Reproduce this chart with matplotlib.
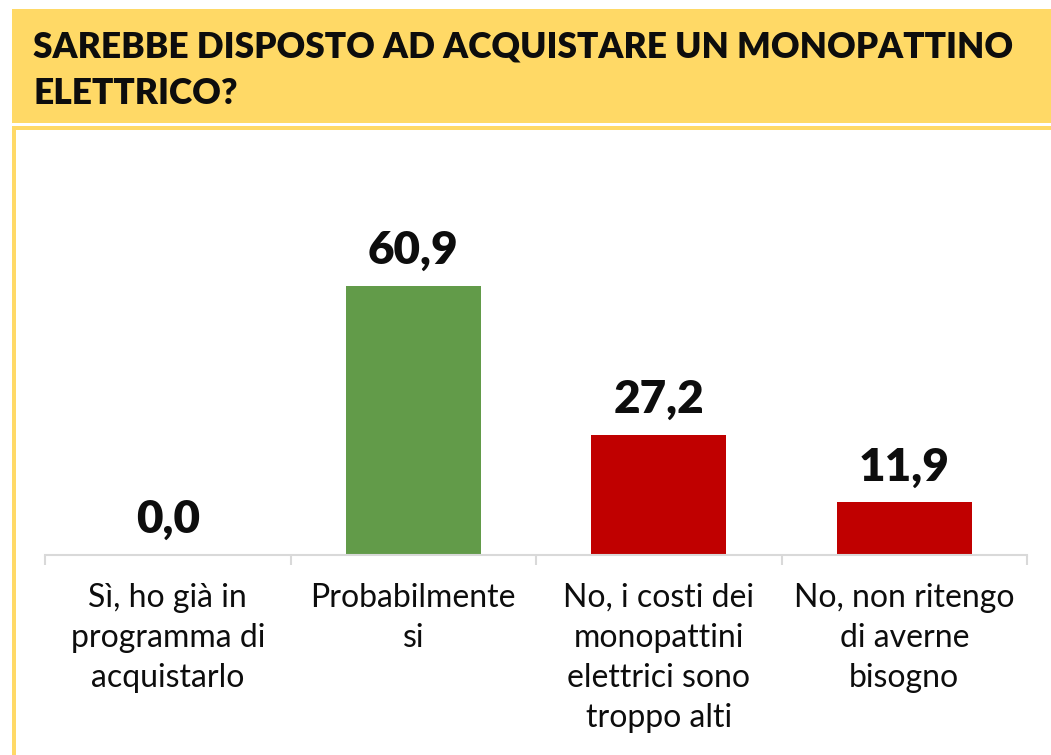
import matplotlib.pyplot as plt
from matplotlib.patches import Rectangle

W, H = 1051, 755

title_lines = ["SAREBBE DISPOSTO AD ACQUISTARE UN MONOPATTINO", "ELETTRICO?"]
categories = [
    "Sì, ho già in\nprogramma di\nacquistarlo",
    "Probabilmente\nsi",
    "No, i costi dei\nmonopattini\nelettrici sono\ntroppo alti",
    "No, non ritengo\ndi averne\nbisogno",
]
values = [0.0, 60.9, 27.2, 11.9]
colors = ["#629B49", "#629B49", "#C00000", "#C00000"]

YELLOW = "#FFD966"
GRID = "#D9D9D9"

plt.rcParams['font.family'] = ['Lato', 'DejaVu Sans']

fig = plt.figure(figsize=(W / 100, H / 100), dpi=100)


def px_rect(x0, y0, x1, y1, color):
    # pixel coords with origin top-left -> figure fraction
    fig.patches.append(Rectangle((x0 / W, 1 - y1 / H), (x1 - x0) / W, (y1 - y0) / H,
                                 transform=fig.transFigure, facecolor=color,
                                 edgecolor='none', zorder=0))


# title band and frame
px_rect(12, 9, W, 123, YELLOW)
px_rect(12, 126, W, 130, YELLOW)
px_rect(12, 126, 16, H, YELLOW)

for i, line in enumerate(title_lines):
    fig.text(33 / W, 1 - (57 + 47 * i) / H, line, fontsize=25.4, fontweight='heavy',
             color='#0D0D0D', va='baseline', ha='left')

# plot area: baseline at y=555 px, ylim 0..70 -> ~4.42 px per unit
ymax = 70
ax_left, ax_right = 45, 1027
base_y = 555
top_y = base_y - ymax * 4.42
ax = fig.add_axes([ax_left / W, 1 - base_y / H, (ax_right - ax_left) / W, (base_y - top_y) / H])
ax.set_facecolor('none')

x = range(len(values))
bars = ax.bar(x, values, width=0.55, color=colors, zorder=2)
for b, v in zip(bars, values):
    ax.text(b.get_x() + b.get_width() / 2, v + 3.3, f"{v:.1f}".replace('.', ','),
            ha='center', va='bottom', fontsize=33, fontweight='heavy',
            color='#0D0D0D', clip_on=False)

ax.set_xlim(-0.5, len(values) - 0.5)
ax.set_ylim(0, ymax)
ax.set_yticks([])
for s in ['top', 'right', 'left']:
    ax.spines[s].set_visible(False)
ax.spines['bottom'].set_color(GRID)
ax.spines['bottom'].set_linewidth(1.5)

ax.set_xticks(list(x))
ax.set_xticklabels(categories, fontsize=23, color='#0D0D0D', linespacing=1.42)
ax.tick_params(axis='x', which='major', length=0, pad=20)
ax.set_xticks([i - 0.5 for i in range(len(values) + 1)], minor=True)
ax.tick_params(axis='x', which='minor', length=7.5, width=1.5, color=GRID)

fig.savefig("out.png", dpi=100)
